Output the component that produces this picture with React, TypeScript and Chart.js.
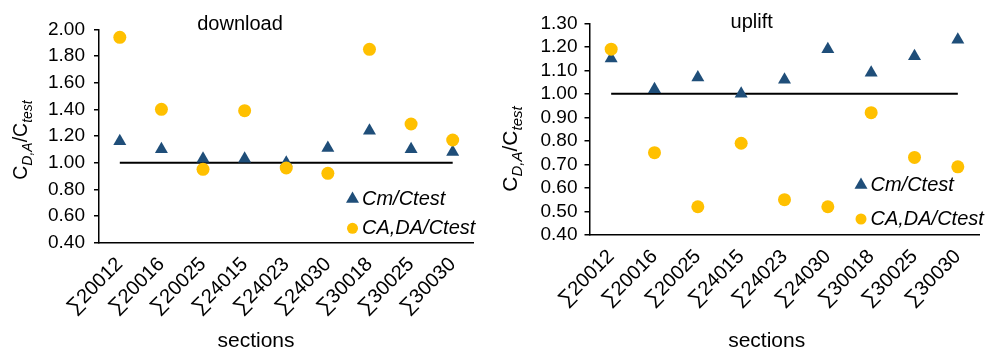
import React, { useEffect, useRef } from 'react';
import { Chart, registerables } from 'chart.js';

Chart.register(...registerables);

// ---- data ----
const sections = ['∑20012', '∑20016', '∑20025', '∑24015', '∑24023', '∑24030', '∑30018', '∑30025', '∑30030'];

const downloadCm = [1.16, 1.10, 1.03, 1.03, 1.00, 1.11, 1.24, 1.10, 1.08];
const downloadCADA = [1.94, 1.40, 0.95, 1.39, 0.96, 0.92, 1.85, 1.29, 1.17];

const upliftCm = [1.15, 1.02, 1.07, 1.00, 1.06, 1.19, 1.09, 1.16, 1.23];
const upliftCADA = [1.19, 0.75, 0.52, 0.79, 0.55, 0.52, 0.92, 0.73, 0.69];

// ratio = 1 reference line
const unity = [1, 1, 1, 1, 1, 1, 1, 1, 1];

const downloadAxis = [0.4, 2.0, 0.2]; // min, max, step
const upliftAxis = [0.4, 1.3, 0.1];

const seriesNames = ['Cm/Ctest', 'CA,DA/Ctest'];

// ---- styling ----
const FONT = '"Liberation Sans", Arial, Helvetica, sans-serif';
const INK = '#000000';
const NAVY = '#1f4e79';
const GOLD = '#ffc000';
const H = 354;

type PanelProps = {
  title: string;
  cm: number[];
  cada: number[];
  axis: number[];
  left: number;
  width: number;
  yW: number;
  top: number;
  xH: number;
  padRight: number;
  tickPad: number;
  titleX: number;
  titleY: number;
  xTitleX: number;
  yTitleX: number;
  yTitleY: number;
  yTitleSize: number;
  legX: number;
  legY1: number;
  legY2: number;
};

function drawTriangle(ctx: CanvasRenderingContext2D, x: number, y: number, r: number) {
  ctx.beginPath();
  let a = 0;
  ctx.moveTo(x + Math.sin(a) * r, y - Math.cos(a) * r);
  a += (2 * Math.PI) / 3;
  ctx.lineTo(x + Math.sin(a) * r, y - Math.cos(a) * r);
  a += (2 * Math.PI) / 3;
  ctx.lineTo(x + Math.sin(a) * r, y - Math.cos(a) * r);
  ctx.closePath();
  ctx.fill();
}

// Rotated axis title C_{D,A}/C_{test} with italic subscripts
function drawYTitle(ctx: CanvasRenderingContext2D, bx: number, cy: number, size: number) {
  const sub = Math.round(size * 0.72);
  const parts = [
    { t: 'C', f: `${size}px ${FONT}`, dy: 0 },
    { t: 'D,A', f: `italic ${sub}px ${FONT}`, dy: size * 0.24 },
    { t: '/C', f: `${size}px ${FONT}`, dy: 0 },
    { t: 'test', f: `italic ${sub}px ${FONT}`, dy: size * 0.24 },
  ];
  let total = 0;
  const widths = parts.map((p) => {
    ctx.font = p.f;
    const w = ctx.measureText(p.t).width;
    total += w;
    return w;
  });
  ctx.save();
  ctx.translate(bx, cy);
  ctx.rotate(-Math.PI / 2);
  ctx.textAlign = 'left';
  ctx.textBaseline = 'alphabetic';
  let x = -total / 2;
  parts.forEach((p, i) => {
    ctx.font = p.f;
    ctx.fillText(p.t, x, p.dy);
    x += widths[i];
  });
  ctx.restore();
}

function Panel(props: PanelProps) {
  const ref = useRef<HTMLCanvasElement>(null);

  useEffect(() => {
    const p = props;
    const [yMin, yMax, yStep] = p.axis;

    const decor = {
      id: 'decor',
      afterDraw(chart: Chart) {
        const ctx = chart.ctx;
        ctx.save();
        ctx.fillStyle = INK;
        ctx.textAlign = 'center';
        ctx.textBaseline = 'alphabetic';
        ctx.font = `20px ${FONT}`;
        ctx.fillText(p.title, p.titleX, p.titleY);

        ctx.font = `21px ${FONT}`;
        ctx.fillText('sections', p.xTitleX, 347);

        drawYTitle(ctx, p.yTitleX, p.yTitleY, p.yTitleSize);

        // legend
        ctx.fillStyle = NAVY;
        drawTriangle(ctx, p.legX, p.legY1, 7.5);
        ctx.fillStyle = GOLD;
        ctx.beginPath();
        ctx.arc(p.legX, p.legY2, 5.5, 0, Math.PI * 2);
        ctx.fill();
        ctx.fillStyle = INK;
        ctx.font = `italic 20px ${FONT}`;
        ctx.textAlign = 'left';
        ctx.textBaseline = 'middle';
        ctx.fillText(seriesNames[0], p.legX + 9.5, p.legY1);
        ctx.fillText(seriesNames[1], p.legX + 9.5, p.legY2);
        ctx.restore();
      },
    };

    const chart = new Chart(ref.current as HTMLCanvasElement, {
      type: 'line',
      data: {
        labels: sections,
        datasets: [
          {
            label: seriesNames[1],
            data: p.cada,
            showLine: false,
            pointStyle: 'circle',
            pointRadius: 6.5,
            pointBackgroundColor: GOLD,
            pointBorderWidth: 0,
            borderColor: GOLD,
            backgroundColor: GOLD,
          },
          {
            label: seriesNames[0],
            data: p.cm,
            showLine: false,
            pointStyle: 'triangle',
            pointRadius: 7.5,
            pointBackgroundColor: NAVY,
            pointBorderWidth: 0,
            borderColor: NAVY,
            backgroundColor: NAVY,
          },
          {
            label: 'unity',
            data: unity,
            borderColor: INK,
            borderWidth: 2,
            pointRadius: 0,
            fill: false,
          },
        ],
      },
      options: {
        responsive: false,
        animation: false,
        events: [],
        layout: { padding: { top: p.top, right: p.padRight, left: 0, bottom: 0 } },
        plugins: {
          legend: { display: false },
          tooltip: { enabled: false },
          title: { display: false },
        },
        scales: {
          x: {
            type: 'category',
            offset: true,
            grid: { display: true, drawOnChartArea: false, drawTicks: false },
            border: { display: true, color: INK, width: 1.5 },
            ticks: {
              autoSkip: false,
              minRotation: 45,
              maxRotation: 45,
              padding: 10,
              color: INK,
              font: { family: FONT, size: 20 },
            },
            afterFit: (s: any) => {
              s.height = p.xH;
            },
          },
          y: {
            min: yMin,
            max: yMax,
            grid: { drawOnChartArea: false, drawTicks: true, tickLength: 5, color: INK, lineWidth: 1.5 },
            border: { display: true, color: INK, width: 1.5 },
            ticks: {
              stepSize: yStep,
              autoSkip: false,
              padding: p.tickPad,
              color: INK,
              font: { family: FONT, size: 19 },
              callback: (v: any) => Number(v).toFixed(2),
            },
            afterFit: (s: any) => {
              s.width = p.yW;
            },
          },
        },
      },
      plugins: [decor],
    } as any);

    return () => chart.destroy();
  }, []);

  return (
    <canvas
      ref={ref}
      width={props.width}
      height={H}
      style={{ position: 'absolute', left: props.left, top: 0, width: props.width, height: H }}
    />
  );
}

export default function App() {
  return (
    <div
      style={{
        position: 'absolute',
        left: 0,
        top: 0,
        width: 987,
        height: H,
        overflow: 'hidden',
        background: '#ffffff',
      }}
    >
      <Panel
        title="download"
        cm={downloadCm}
        cada={downloadCADA}
        axis={downloadAxis}
        left={0}
        width={493}
        yW={99}
        top={29.3}
        xH={H - 242.7}
        padRight={19.5}
        tickPad={9}
        titleX={240}
        titleY={30}
        xTitleX={256}
        yTitleX={27.3}
        yTitleY={140}
        yTitleSize={19.5}
        legX={352.5}
        legY1={199}
        legY2={228.3}
      />
      <Panel
        title="uplift"
        cm={upliftCm}
        cada={upliftCADA}
        axis={upliftAxis}
        left={493}
        width={494}
        yW={96.5}
        top={23.3}
        xH={H - 235}
        padRight={0}
        tickPad={7}
        titleX={258.7}
        titleY={28}
        xTitleX={273.7}
        yTitleX={24.3}
        yTitleY={149}
        yTitleSize={21}
        legX={368}
        legY1={185}
        legY2={219}
      />
    </div>
  );
}
